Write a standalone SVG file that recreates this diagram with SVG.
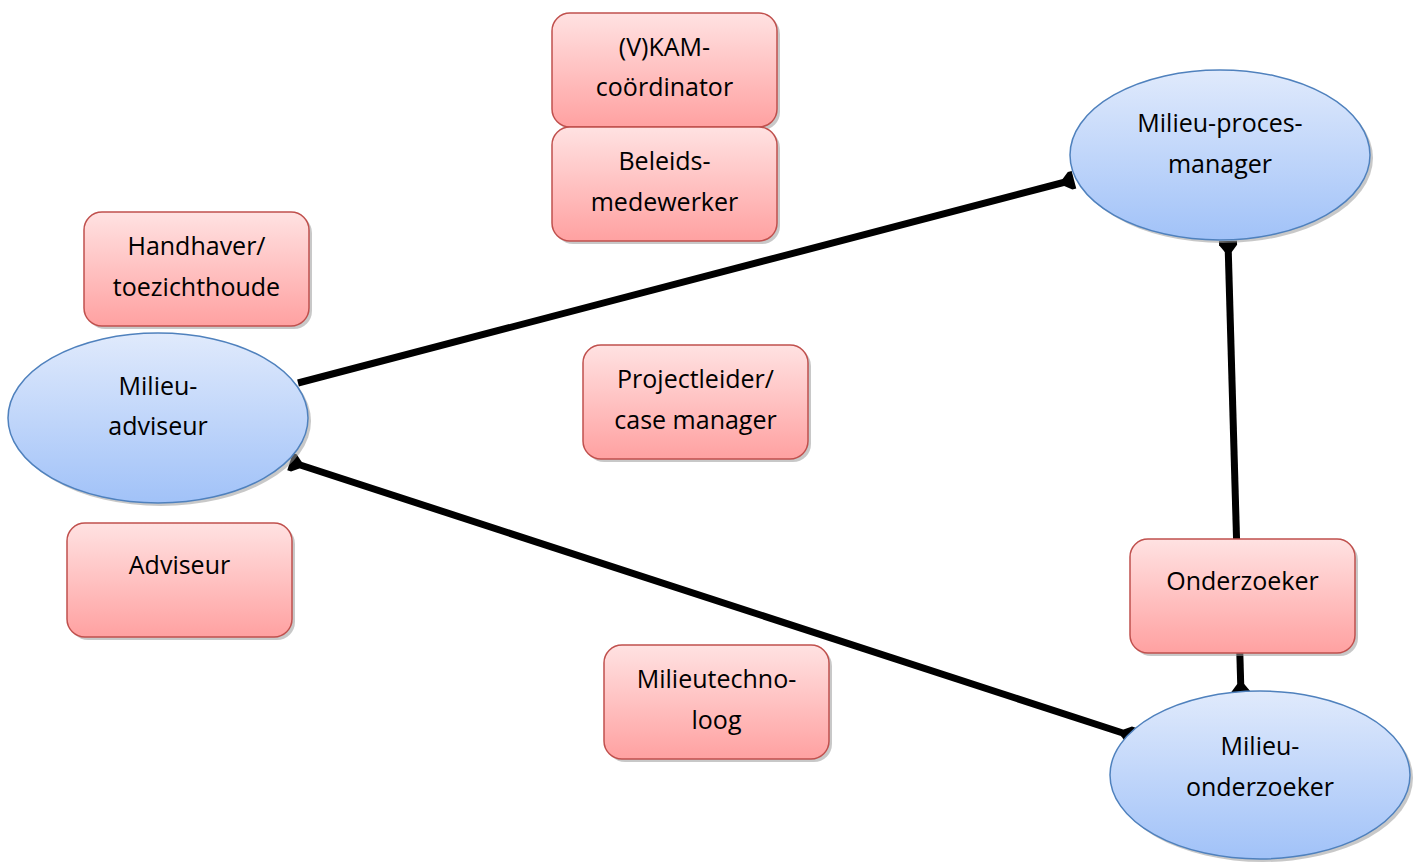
<svg xmlns="http://www.w3.org/2000/svg" width="1415" height="862" viewBox="0 0 1415 862">
<style>
.box{fill:url(#gRed);stroke:#c0504d;stroke-width:1.5}
.ell{fill:url(#gBlue);stroke:#4f81bd;stroke-width:1.5}
.sh{fill:#9a9a9a;opacity:0.55}
.t{font-family:"Open Sans","Noto Sans",sans-serif;font-size:25px;fill:#000;text-anchor:middle}
.c{stroke:#000;stroke-width:7;fill:none}
</style>
<defs>
<linearGradient id="gRed" x1="0" y1="0" x2="0" y2="1">
<stop offset="0" stop-color="#ffe2e2"/>
<stop offset="1" stop-color="#ffa1a1"/>
</linearGradient>
<linearGradient id="gBlue" x1="0" y1="0" x2="0" y2="1">
<stop offset="0" stop-color="#e0eafc"/>
<stop offset="1" stop-color="#a1c2f8"/>
</linearGradient>
<marker id="foot" markerUnits="userSpaceOnUse" markerWidth="24" markerHeight="24" viewBox="-12 -12 24 24" refX="0" refY="0" orient="auto-start-reverse">
<path d="M -10 -3.5 L -3 -9 L 1 -9 L 1 9 L -3 9 L -10 3.5 Z" fill="#000"/>
</marker>
</defs>
<g id="connectors">
<line class="c" x1="298" y1="383" x2="1073" y2="180" marker-end="url(#foot)"/>
<line class="c" x1="291" y1="462" x2="1132" y2="736" marker-start="url(#foot)" marker-end="url(#foot)"/>
<line class="c" x1="1228" y1="242" x2="1241" y2="694" marker-start="url(#foot)" marker-end="url(#foot)"/>
</g>
<g id="vkam">
<rect class="sh" x="555" y="16" width="225" height="114" rx="18"/>
<rect class="box" x="552" y="13" width="225" height="114" rx="18"/>
<text class="t" x="664.5" y="56">(V)KAM-</text>
<text class="t" x="664.5" y="96">coördinator</text>
</g>
<g id="beleids">
<rect class="sh" x="555" y="130" width="225" height="114" rx="18"/>
<rect class="box" x="552" y="127" width="225" height="114" rx="18"/>
<text class="t" x="664.5" y="170">Beleids-</text>
<text class="t" x="664.5" y="211">medewerker</text>
</g>
<g id="handhaver">
<rect class="sh" x="87" y="215" width="225" height="114" rx="18"/>
<rect class="box" x="84" y="212" width="225" height="114" rx="18"/>
<text class="t" x="196.5" y="255">Handhaver/</text>
<text class="t" x="196.5" y="296">toezichthoude</text>
</g>
<g id="projectleider">
<rect class="sh" x="586" y="348" width="225" height="114" rx="18"/>
<rect class="box" x="583" y="345" width="225" height="114" rx="18"/>
<text class="t" x="695.5" y="388">Projectleider/</text>
<text class="t" x="695.5" y="429">case manager</text>
</g>
<g id="adviseur">
<rect class="sh" x="70" y="526" width="225" height="114" rx="18"/>
<rect class="box" x="67" y="523" width="225" height="114" rx="18"/>
<text class="t" x="179.5" y="574">Adviseur</text>
</g>
<g id="onderzoeker">
<rect class="sh" x="1133" y="542" width="225" height="114" rx="18"/>
<rect class="box" x="1130" y="539" width="225" height="114" rx="18"/>
<text class="t" x="1242.5" y="590">Onderzoeker</text>
</g>
<g id="milieutechnoloog">
<rect class="sh" x="607" y="648" width="225" height="114" rx="18"/>
<rect class="box" x="604" y="645" width="225" height="114" rx="18"/>
<text class="t" x="716.5" y="688">Milieutechno-</text>
<text class="t" x="716.5" y="729">loog</text>
</g>
<g id="milieu-adviseur">
<ellipse class="sh" cx="161" cy="421" rx="150" ry="85"/>
<ellipse class="ell" cx="158" cy="418" rx="150" ry="85"/>
<text class="t" x="158" y="395">Milieu-</text>
<text class="t" x="158" y="435">adviseur</text>
</g>
<g id="milieu-procesmanager">
<ellipse class="sh" cx="1223" cy="158" rx="150" ry="85"/>
<ellipse class="ell" cx="1220" cy="155" rx="150" ry="85"/>
<text class="t" x="1220" y="132">Milieu-proces-</text>
<text class="t" x="1220" y="173">manager</text>
</g>
<g id="milieu-onderzoeker">
<ellipse class="sh" cx="1263" cy="778" rx="150" ry="84"/>
<ellipse class="ell" cx="1260" cy="775" rx="150" ry="84"/>
<text class="t" x="1260" y="755">Milieu-</text>
<text class="t" x="1260" y="796">onderzoeker</text>
</g>
</svg>
